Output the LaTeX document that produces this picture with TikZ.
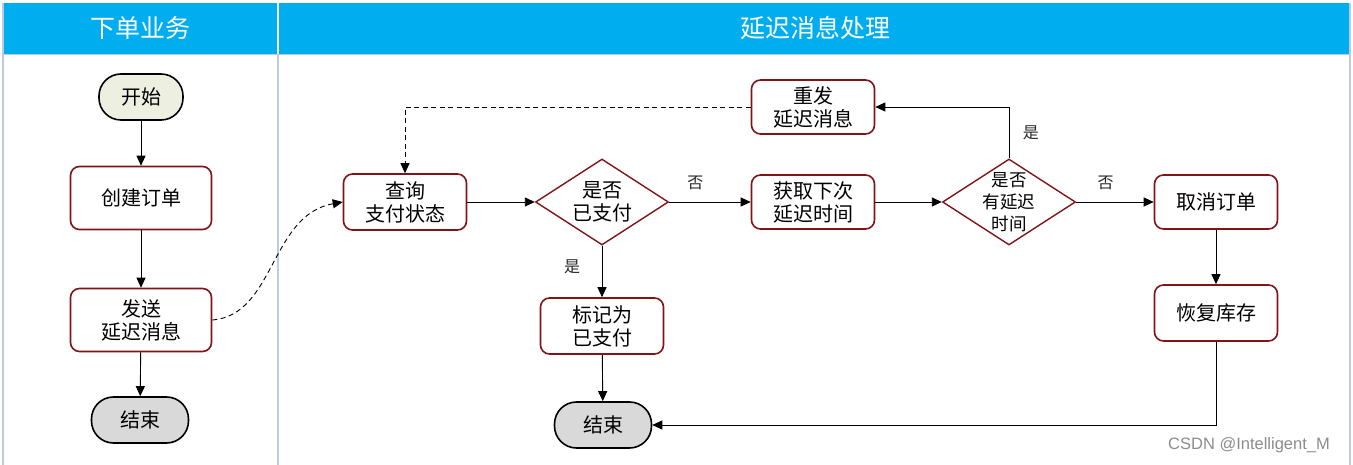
\documentclass[tikz,border=0pt]{standalone}
\usepackage{fontspec}
\setmainfont{Noto Sans CJK SC}
\newfontfamily\wmfont{Liberation Sans}
\usetikzlibrary{arrows.meta,shapes.geometric}
\definecolor{hdrblue}{RGB}{0,174,239}
\definecolor{laneline}{RGB}{190,202,222}
\definecolor{boxred}{RGB}{128,20,24}
\definecolor{startfill}{RGB}{237,239,225}
\definecolor{endfill}{RGB}{217,217,217}
\tikzset{
  procbox/.style={draw=boxred,line width=1.6pt,rounded corners=9pt,fill=white,
    minimum width=123pt,minimum height=56pt,align=center,font=\fontsize{20}{23}\selectfont,inner sep=2pt},
  termbox/.style={draw=black,line width=1.6pt,rounded corners=22pt,
    minimum height=46pt,font=\fontsize{20}{23}\selectfont,inner sep=2pt},
  decbox/.style={diamond,draw=boxred,line width=1.4pt,fill=white,aspect=1.55,
    minimum width=133pt,minimum height=86pt,align=center,inner sep=-8pt},
  flow/.style={line width=0.9pt,-{Triangle[length=10pt,width=9pt]}},
  dflow/.style={flow,dashed,dash pattern=on 5pt off 3.5pt},
  lbl/.style={font=\fontsize{16}{18}\selectfont,text=black!85},
  hdr/.style={font=\fontsize{25}{28}\selectfont,text=white}
}
\begin{document}
\begin{tikzpicture}[x=1pt,y=-1pt]
\useasboundingbox (0,0) rectangle (1353,465);
\fill[white] (0,0) rectangle (1353,465);
% header band
\fill[hdrblue] (3,3) rectangle (1350,55);
\draw[white,line width=2pt] (278,3) -- (278,55);
% lane borders
\draw[laneline,line width=2pt] (3,3) -- (3,465);
\draw[laneline,line width=2pt] (278,55) -- (278,465);
\draw[laneline,line width=2pt] (1350,3) -- (1350,465);
\draw[laneline,line width=1pt] (3,55) -- (1350,55);
\node[hdr] (h1) at (140,28) {下单业务};
\node[hdr] (h2) at (815,28) {延迟消息处理};
% left lane
\node[termbox,fill=startfill,minimum width=84pt] (start) at (141,97) {开始};
\node[procbox,minimum width=141pt,minimum height=63pt] (create) at (141,198) {创建订单};
\node[procbox,minimum width=141pt,minimum height=63pt] (send) at (141,320) {发送\\延迟消息};
\node[termbox,fill=endfill,minimum width=97pt] (end1) at (140,420) {结束};
% right lane
\node[procbox] (query) at (405,202) {查询\\支付状态};
\node[decbox,font=\fontsize{20}{23}\selectfont] (paid) at (602,202) {是否\\已支付};
\node[procbox,minimum height=54pt] (next) at (813,202) {获取下次\\延迟时间};
\node[procbox,minimum height=54pt] (resend) at (813,107) {重发\\延迟消息};
\node[decbox,font=\fontsize{17.5}{22}\selectfont,inner sep=-14pt] (hasdelay) at (1009,202) {是否\\有延迟\\时间};
\node[procbox,minimum height=54pt] (cancel) at (1216,202) {取消订单};
\node[procbox] (restore) at (1216,313) {恢复库存};
\node[procbox] (mark) at (602,326) {标记为\\已支付};
\node[termbox,fill=endfill,minimum width=97pt] (end2) at (603,425) {结束};
% connectors
\draw[flow] (start) -- (create);
\draw[flow] (create) -- (send);
\draw[flow] (send) -- (end1);
\draw[dflow] (send.east) .. controls (275,315) and (270,215) .. (query.west);
\draw[flow] (query) -- (paid);
\draw[flow] (paid) -- node[lbl,above,pos=0.32,yshift=8pt] (no1) {否} (next);
\draw[flow] (paid) -- node[lbl,left,pos=0.4,xshift=-18pt] (yes1) {是} (mark);
\draw[flow] (mark) -- (end2);
\draw[flow] (next) -- (hasdelay);
\draw[flow] (hasdelay) -- node[lbl,above,pos=0.38,yshift=8pt] (no2) {否} (cancel);
\draw[flow] (hasdelay.north) |- node[lbl,right,pos=0.25,xshift=10pt] (yes2) {是} (resend.east);
\draw[dflow] (resend.west) -| (query.north);
\draw[flow] (cancel) -- (restore);
\draw[flow] (restore.south) |- (end2.east);
\node[font=\wmfont\fontsize{16.5}{18}\selectfont,text=black!45] (wm) at (1249,445) {CSDN @Intelligent\_M};
\end{tikzpicture}
\end{document}
